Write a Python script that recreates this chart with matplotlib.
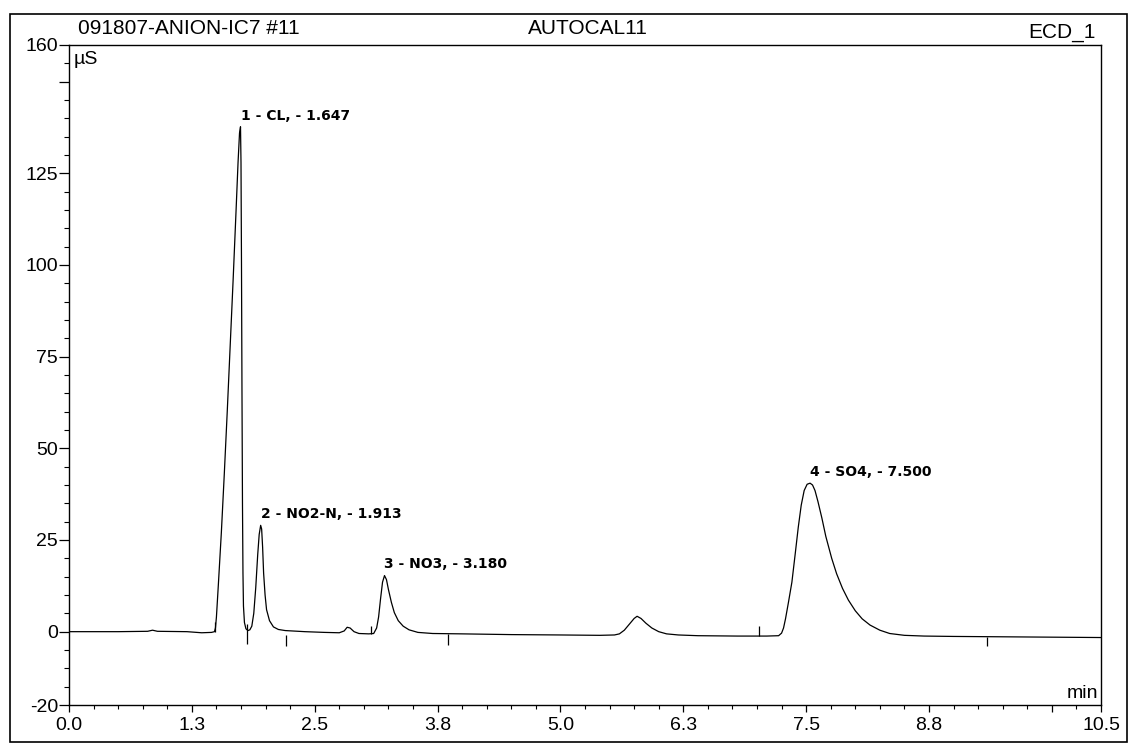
import numpy as np
import matplotlib
matplotlib.use("Agg")
from matplotlib import pyplot as plt
from matplotlib.patches import Rectangle

# chromatogram trace (retention time in min, signal in uS)
time_min = [0.00, 0.50, 0.80, 0.85, 0.90, 1.20, 1.35, 1.45, 1.48, 1.49,
            1.50, 1.52, 1.55, 1.58, 1.61, 1.64, 1.67, 1.70, 1.72, 1.735,
            1.745, 1.750, 1.755, 1.760, 1.765, 1.770, 1.775, 1.785, 1.80, 1.82,
            1.84, 1.86, 1.88, 1.90, 1.92, 1.935, 1.95, 1.96, 1.97, 1.98,
            1.995, 2.01, 2.04, 2.08, 2.13, 2.20, 2.40, 2.60, 2.75, 2.80,
            2.83, 2.86, 2.90, 2.95, 3.05, 3.10, 3.13, 3.15, 3.17, 3.19,
            3.21, 3.23, 3.25, 3.28, 3.31, 3.35, 3.40, 3.46, 3.55, 3.70,
            4.00, 4.50, 5.00, 5.40, 5.55, 5.60, 5.65, 5.70, 5.75, 5.78,
            5.82, 5.87, 5.93, 6.00, 6.08, 6.20, 6.40, 6.80, 7.10, 7.22,
            7.25, 7.27, 7.29, 7.32, 7.355, 7.39, 7.42, 7.45, 7.48, 7.51,
            7.54, 7.565, 7.59, 7.62, 7.66, 7.70, 7.76, 7.81, 7.87, 7.93,
            8.00, 8.07, 8.15, 8.25, 8.35, 8.50, 8.70, 9.00, 9.50, 10.00,
            10.50]
signal_us = [0.0, 0.0, 0.1, 0.4, 0.1, 0.0, -0.3, -0.2, 0.0, 1.0,
             4.0, 13.0, 27.0, 43.0, 60.0, 78.0, 96.0, 115.0, 128.0, 136.0,
             137.7, 128.0, 100.0, 65.0, 35.0, 16.0, 7.0, 2.5, 0.8, 0.3,
             0.5, 1.5, 5.0, 12.0, 21.0, 26.5, 29.0, 28.0, 23.0, 16.0,
             10.0, 6.0, 3.0, 1.3, 0.6, 0.3, 0.0, -0.2, -0.3, 0.2,
             1.2, 1.0, 0.0, -0.5, -0.6, -0.5, 1.0, 4.0, 9.0, 13.5,
             15.3, 14.2, 11.5, 8.0, 5.2, 3.0, 1.5, 0.5, -0.2, -0.5,
             -0.6, -0.8, -0.9, -1.0, -0.9, -0.6, 0.4, 2.0, 3.6, 4.2,
             3.6, 2.3, 1.0, 0.0, -0.6, -0.9, -1.1, -1.2, -1.2, -1.1,
             -0.4, 1.0, 3.5, 8.0, 13.5, 21.5, 28.5, 34.5, 38.5, 40.2,
             40.5, 40.0, 38.5, 35.5, 31.0, 26.0, 20.0, 15.8, 11.8, 8.6,
             5.7, 3.5, 1.8, 0.4, -0.5, -1.0, -1.2, -1.3, -1.4, -1.5,
             -1.6]

# named peaks: apex time / height and label
peak_time = [1.745, 1.95, 3.21, 7.54]
peak_height = [137.7, 29.0, 15.3, 40.5]
peak_labels = ["1 - CL, - 1.647", "2 - NO2-N, - 1.913",
               "3 - NO3, - 3.180", "4 - SO4, - 7.500"]

# integration delimiter marks on the baseline
mark_time = [1.485, 1.81, 2.21, 3.07, 3.855, 7.02, 9.34]
mark_lo = [0.0, -3.3, -3.8, -0.5, -3.6, -1.2, -4.0]
mark_hi = [2.7, 2.2, -0.8, 1.5, -0.6, 1.5, -1.4]

xtick_pos = [0.0, 1.25, 2.5, 3.75, 5.0, 6.25, 7.5, 8.75, 10.0, 10.5]
xtick_lab = ["0.0", "1.3", "2.5", "3.8", "5.0", "6.3", "7.5", "8.8", "", "10.5"]
ytick_pos = [-20, 0, 25, 50, 75, 100, 125, 150, 160]
ytick_lab = ["-20", "0", "25", "50", "75", "100", "125", "", "160"]

W, H = 1136, 750
plt.rcParams['font.family'] = ['Liberation Sans', 'DejaVu Sans']

fig = plt.figure(figsize=(W / 100, H / 100), dpi=100)
ax = fig.add_axes([69 / W, 1 - 705 / H, (1101 - 69) / W, (705 - 45) / H])

ax.plot(time_min, signal_us, color='black', lw=0.9)
ax.vlines(mark_time, mark_lo, mark_hi, color='black', lw=0.9)

for t, h, lab in zip(peak_time, peak_height, peak_labels):
    ax.annotate(lab, (t, h), xytext=(0, 3), textcoords='offset points',
                ha='left', va='bottom', fontsize=10, fontweight='bold',
                family='DejaVu Sans')

ax.set_xlim(0, 10.5)
ax.set_ylim(-20, 160)
ax.set_xticks(xtick_pos)
ax.set_xticklabels(xtick_lab)
ax.set_xticks(np.arange(0, 10.51, 0.25), minor=True)
ax.set_yticks(ytick_pos)
ax.set_yticklabels(ytick_lab)
ax.set_yticks(np.arange(-20, 161, 5), minor=True)

ax.tick_params(axis='both', which='major', labelsize=14, width=0.9)
ax.tick_params(axis='y', which='major', length=7, pad=1)
ax.tick_params(axis='y', which='minor', length=3.5, width=0.8)
ax.tick_params(axis='x', which='major', length=5, pad=4)
ax.tick_params(axis='x', which='minor', length=3, width=0.8)
for s in ax.spines.values():
    s.set_linewidth(1.0)

# header and unit labels
fig.text(78 / W, 1 - 29 / H, "091807-ANION-IC7 #11", fontsize=15,
         ha='left', va='center')
fig.text(588 / W, 1 - 29 / H, "AUTOCAL11", fontsize=15, ha='center', va='center')
fig.text(1096 / W, 1 - 33 / H, "ECD_1", fontsize=15, ha='right', va='center')
fig.text(74 / W, 1 - 60 / H, "µS", fontsize=14, ha='left', va='center')
fig.text(1098 / W, 1 - 694 / H, "min", fontsize=14, ha='right', va='center')

fig.patches.append(Rectangle((10 / W, 1 - 742 / H), (1127 - 10) / W, (742 - 14) / H,
                             fill=False, lw=1.2, color='black',
                             transform=fig.transFigure, figure=fig))

fig.savefig('out.png', dpi=100)
